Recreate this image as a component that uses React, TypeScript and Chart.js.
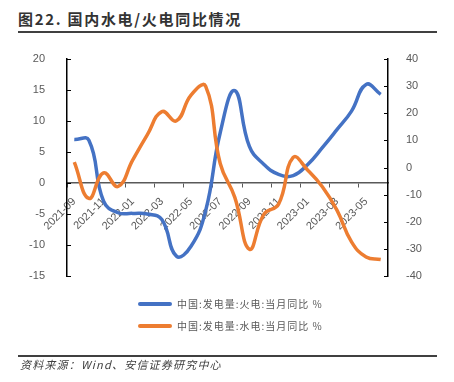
import React, { useEffect, useRef } from "react";
import { Chart, registerables } from "chart.js";

Chart.register(...registerables);

const categories = [
  "2021-09", "2021-10", "2021-11", "2021-12", "2022-01", "2022-02", "2022-03", "2022-04",
  "2022-05", "2022-06", "2022-07", "2022-08", "2022-09", "2022-10", "2022-11", "2022-12",
  "2023-01", "2023-02", "2023-03", "2023-04", "2023-05", "2023-06",
];
const thermalYoY = [7.0, 6.9, -2.9, -4.8, -4.9, -5.0, -5.9, -11.8, -10.2, -4.5, 8.1, 14.9,
  5.9, 3.0, 1.4, 1.2, 3.0, 5.7, 8.6, 11.6, 15.9, 14.3];
const hydroYoY = [2.0, -11.4, -2.0, -7.0, 2.7, 12.0, 20.6, 17.2, 26.7, 30.0, 1.5, -11.0,
  -30.1, -17.2, -13.5, 3.7, -1.0, -7.1, -15.7, -27.4, -33.0, -33.9];
const leftTicks = { min: -15, max: 20, step: 5 };
const rightTicks = { min: -40, max: 40, step: 10 };
const seriesNames = ["中国:发电量:火电:当月同比 %", "中国:发电量:水电:当月同比 %"];
const seriesColors = ["#4472C4", "#ED7D31"];

const FONT = "'Liberation Sans', Arial, sans-serif";
const CJK = "'Noto Sans CJK SC', 'Noto Sans', sans-serif";

const innerTicks = {
  id: "innerTicks",
  afterDraw(chart: any) {
    const ctx = chart.ctx;
    ctx.save();
    ctx.strokeStyle = "#000";
    ctx.lineWidth = 1;
    for (const id of ["y", "y1"]) {
      const s = chart.scales[id];
      const x = id === "y" ? s.right : s.left;
      const dir = id === "y" ? 1 : -1;
      s.ticks.forEach((_t: any, i: number) => {
        const y = Math.round(s.getPixelForTick(i)) + 0.5;
        ctx.beginPath();
        ctx.moveTo(x, y);
        ctx.lineTo(x + dir * 4, y);
        ctx.stroke();
      });
    }
    ctx.restore();
  },
};

export default function App() {
  const ref = useRef<HTMLCanvasElement>(null);
  useEffect(() => {
    if (!ref.current) return;
    const chart = new Chart(ref.current, {
      type: "line",
      data: {
        labels: categories,
        datasets: [
          {
            label: seriesNames[0],
            data: thermalYoY,
            yAxisID: "y",
            borderColor: seriesColors[0],
            backgroundColor: seriesColors[0],
            borderWidth: 3.5,
            pointRadius: 0,
            tension: 0.45,
            order: 1,
          },
          {
            label: seriesNames[1],
            data: hydroYoY,
            yAxisID: "y1",
            borderColor: seriesColors[1],
            backgroundColor: seriesColors[1],
            borderWidth: 3.5,
            pointRadius: 0,
            tension: 0.45,
            order: 0,
          },
        ],
      },
      options: {
        responsive: false,
        animation: false,
        devicePixelRatio: 1,
        layout: { padding: { top: 59, bottom: 106, left: 0, right: 0 } },
        plugins: { legend: { display: false }, tooltip: { enabled: false } },
        scales: {
          x: {
            type: "category",
            position: { y: 0 } as any,
            offset: true,
            grid: {
              drawOnChartArea: false,
              offset: true,
              tickLength: 4,
              color: (c: any) => (c.index % 2 === 0 ? "#595959" : "rgba(0,0,0,0)"),
            },
            border: { color: "#595959", width: 1.5 },
            ticks: {
              autoSkip: false,
              minRotation: 45,
              maxRotation: 45,
              padding: 8,
              color: "#595959",
              font: { size: 11, family: FONT },
              callback: (_v: any, i: number) => (i % 2 === 0 ? categories[i] : ""),
            },
          },
          y: {
            position: "left",
            min: leftTicks.min,
            max: leftTicks.max,
            grid: { display: false },
            border: { color: "#000", width: 1.5 },
            ticks: {
              stepSize: leftTicks.step,
              padding: 14,
              color: "#595959",
              font: { size: 11, family: FONT },
            },
            afterFit: (s: any) => { s.width = 67; },
          },
          y1: {
            position: "right",
            min: rightTicks.min,
            max: rightTicks.max,
            grid: { display: false },
            border: { color: "#000", width: 1.5 },
            ticks: {
              stepSize: rightTicks.step,
              padding: 10,
              color: "#595959",
              font: { size: 11, family: FONT },
            },
            afterFit: (s: any) => { s.width = 66; },
          },
        },
      },
      plugins: [innerTicks],
    });
    return () => chart.destroy();
  }, []);

  const legendItem = (i: number, top: number) => (
    <div key={i} style={{ position: "absolute", left: 138, top: top - 8, height: 16, display: "flex", alignItems: "center" }}>
      <div style={{ width: 34, height: 4, borderRadius: 2, background: seriesColors[i] }} />
      <span style={{ marginLeft: 5, fontFamily: CJK, fontSize: 10, letterSpacing: 1, color: "#595959", whiteSpace: "nowrap", lineHeight: "16px" }}>
        {seriesNames[i]}
      </span>
    </div>
  );

  return (
    <div style={{ position: "absolute", left: 0, top: 0, width: 454, height: 382, background: "#fff", overflow: "hidden" }}>
      <div style={{ position: "absolute", left: 18, top: 10, fontFamily: CJK, fontWeight: 700, fontSize: 15, lineHeight: "18px", letterSpacing: 1.7, color: "#333", whiteSpace: "nowrap" }}>
        图22. 国内水电/火电同比情况
      </div>
      <div style={{ position: "absolute", left: 18, top: 31, width: 419, height: 2, background: "#404040" }} />
      <canvas ref={ref} width={454} height={382} style={{ position: "absolute", left: 0, top: 0, width: 454, height: 382 }} />
      {legendItem(0, 304)}
      {legendItem(1, 326)}
      <div style={{ position: "absolute", left: 18, top: 355, width: 419, height: 2, background: "#404040" }} />
      <div style={{ position: "absolute", left: 20, top: 357, fontFamily: CJK, fontStyle: "italic", fontSize: 11, lineHeight: "14px", letterSpacing: 1.2, color: "#404040", whiteSpace: "nowrap" }}>
        资料来源：Wind、安信证券研究中心
      </div>
    </div>
  );
}
